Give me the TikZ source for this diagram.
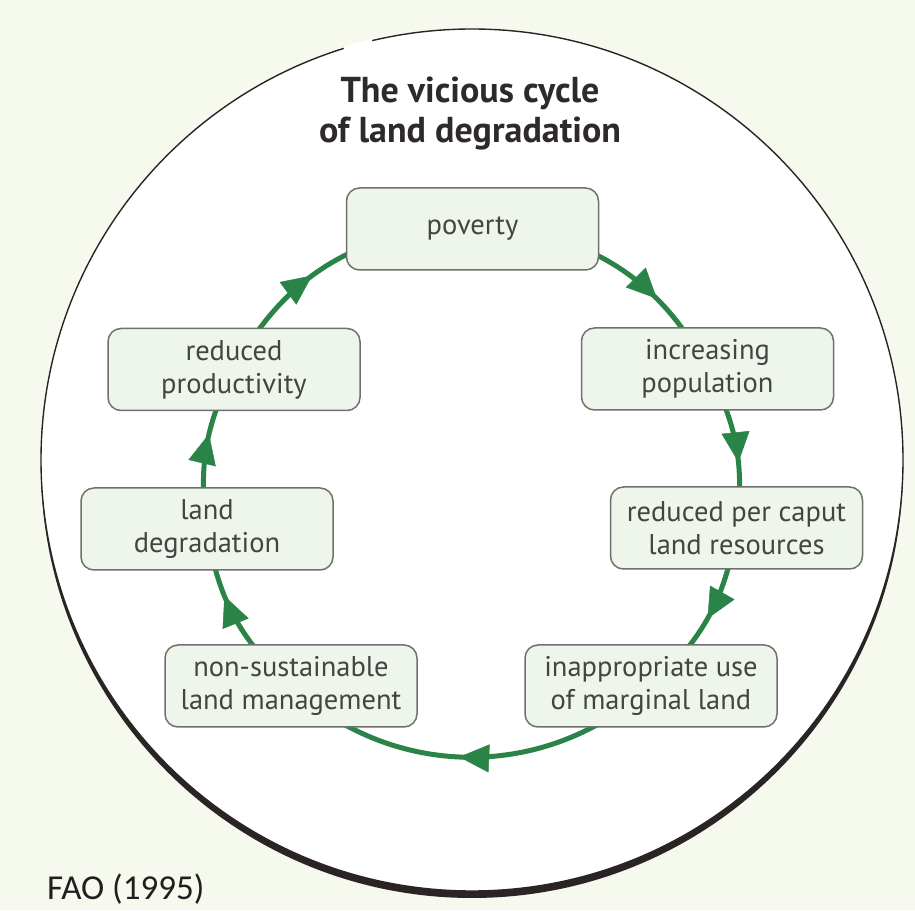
\documentclass[tikz,border=0pt]{standalone}
\usepackage{fontspec}
\setmainfont{PT Sans}
\newfontfamily\faofont{Carlito}
\usetikzlibrary{arrows.meta,decorations.markings}
\definecolor{bgc}{HTML}{F6F9EE}
\definecolor{boxfill}{HTML}{EEF5EA}
\definecolor{boxline}{HTML}{6F716D}
\definecolor{arrowgreen}{HTML}{2A8448}
\definecolor{rim}{HTML}{2B2424}
\definecolor{txt}{HTML}{444444}
\definecolor{titlec}{HTML}{2E2A2A}
\pgfdeclarelayer{back}
\pgfdeclarelayer{mid}
\pgfsetlayers{back,mid,main}
\tikzset{
  stage/.style={draw=boxline, line width=1.5pt, fill=boxfill, rounded corners=13pt,
    minimum width=252pt, minimum height=82pt, inner sep=0pt, align=center,
    text=txt, font=\fontsize{28.5}{33}\selectfont},
  cyc/.style={draw=arrowgreen, line width=5pt, postaction={decorate},
    decoration={markings, mark=at position #1 with
      {\arrow{Triangle[length=30pt,width=28pt,line width=0.5pt,color=arrowgreen]}}}},
  titletext/.style={anchor=base, text=titlec, font=\fontsize{36}{42}\selectfont\bfseries, inner sep=0pt},
}
\begin{document}
\begin{tikzpicture}[x=1pt,y=1pt]
\begin{pgfonlayer}{back}
\fill[bgc] (0,0) rectangle (915,910);
\useasboundingbox (0,0) rectangle (915,910);
% outer ring with heavier lower edge
\fill[rim] (472,443) circle[radius=431];
\filldraw[fill=white, draw=rim, line width=1.4pt] (472,450) circle[radius=431];
\draw[white, line width=3.5pt] (472,450) ++(103.4:431) arc[start angle=103.4, end angle=107.3, radius=431];
\end{pgfonlayer}

\node[titletext] (t1) at (470,807) {The vicious cycle};
\node[titletext] (t2) at (470,767) {of land degradation};

\node[stage] (pov)  at (472.5,681) {poverty};
\node[stage] (inc)  at (707.5,541) {increasing\\population};
\node[stage] (rpc)  at (736.5,382) {reduced per caput\\land resources};
\node[stage] (inap) at (651,224)   {inappropriate use\\of marginal land};
\node[stage] (nons) at (291,224)   {non-sustainable\\land management};
\node[stage] (ld)   at (207,381)   {land\\degradation};
\node[stage] (rp)   at (234,540.5) {reduced\\productivity};

\begin{pgfonlayer}{mid}
\draw[cyc=0.70] (pov.center)  to[bend left=31.4] (inc.center);
\draw[cyc=0.60] (inc.center)  to[bend left=17.7] (rpc.center);
\draw[cyc=0.52] (rpc.center)  to[bend left=19.7] (inap.center);
\draw[cyc=0.53] (inap.center) to[bend left=42.6] (nons.center);
\draw[cyc=0.62] (nons.center) to[bend left=19.5] (ld.center);
\draw[cyc=0.58] (ld.center)   to[bend left=17.6] (rp.center);
\draw[cyc=0.42] (rp.center)   to[bend left=31.6] (pov.center);
\end{pgfonlayer}

\node[anchor=base west, inner sep=0pt, text=black!88, font=\faofont\fontsize{35}{40}\selectfont] (src) at (47,11) {FAO (1995)};
\end{tikzpicture}
\end{document}
